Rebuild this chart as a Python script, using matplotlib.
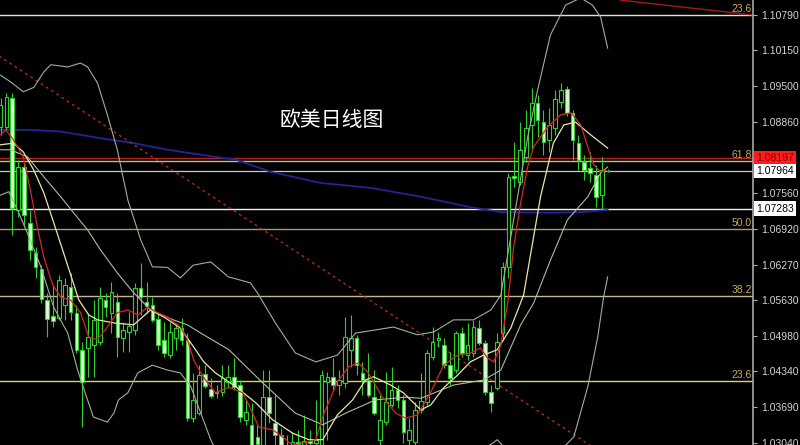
import numpy as np
import matplotlib.pyplot as plt

plt.rcParams['font.family'] = ['Liberation Sans', 'DejaVu Sans']

# --- daily candles (EURUSD) ---
opens = [1.0876, 1.0876, 1.0929, 1.0726, 1.0804, 1.0702, 1.0648, 1.0619, 1.0563, 1.0534,
         1.0530, 1.0554, 1.0587, 1.0540, 1.0473, 1.0476, 1.0482, 1.0487, 1.0563, 1.0540,
         1.0559, 1.0494, 1.0505, 1.0509, 1.0585, 1.0559, 1.0554, 1.0529, 1.0491, 1.0463,
         1.0494, 1.0512, 1.0491, 1.0349, 1.0358, 1.0429, 1.0402, 1.0395, 1.0397, 1.0415,
         1.0424, 1.0409, 1.0346, 1.0337, 1.0315, 1.0300, 1.0387, 1.0340, 1.0319, 1.0300,
         1.0297, 1.0306, 1.0300, 1.0308, 1.0304, 1.0300, 1.0415, 1.0424, 1.0409, 1.0413,
         1.0473, 1.0494, 1.0431, 1.0418, 1.0387, 1.0310, 1.0342, 1.0373, 1.0400, 1.0382,
         1.0310, 1.0306, 1.0364, 1.0378, 1.0460, 1.0491, 1.0482, 1.0445, 1.0436, 1.0503,
         1.0463, 1.0467, 1.0512, 1.0485, 1.0397, 1.0404, 1.0503, 1.0623, 1.0788, 1.0777,
         1.0822, 1.0880, 1.0920, 1.0885, 1.0853, 1.0874, 1.0922, 1.0945, 1.0902, 1.0847,
         1.0813, 1.0802, 1.0789, 1.0753, 1.0797]
highs = [1.0929, 1.0938, 1.0938, 1.0817, 1.0811, 1.0726, 1.0659, 1.0626, 1.0576, 1.0590,
         1.0608, 1.0603, 1.0612, 1.0554, 1.0487, 1.0540, 1.0563, 1.0587, 1.0576, 1.0596,
         1.0576, 1.0523, 1.0541, 1.0594, 1.0630, 1.0596, 1.0568, 1.0540, 1.0523, 1.0523,
         1.0521, 1.0530, 1.0503, 1.0431, 1.0445, 1.0445, 1.0422, 1.0409, 1.0445, 1.0445,
         1.0458, 1.0418, 1.0382, 1.0377, 1.0337, 1.0436, 1.0436, 1.0391, 1.0331, 1.0319,
         1.0324, 1.0328, 1.0355, 1.0328, 1.0382, 1.0436, 1.0433, 1.0458, 1.0436, 1.0532,
         1.0536, 1.0500, 1.0451, 1.0467, 1.0436, 1.0391, 1.0433, 1.0442, 1.0409, 1.0391,
         1.0349, 1.0378, 1.0431, 1.0473, 1.0514, 1.0505, 1.0494, 1.0469, 1.0507, 1.0514,
         1.0521, 1.0527, 1.0527, 1.0491, 1.0409, 1.0503, 1.0632, 1.0793, 1.0849, 1.0885,
         1.0907, 1.0947, 1.0934, 1.0907, 1.0911, 1.0943, 1.0956, 1.0950, 1.0907, 1.0862,
         1.0826, 1.0831, 1.0807, 1.0822, 1.0800]
lows = [1.0862, 1.0871, 1.0681, 1.0713, 1.0695, 1.0635, 1.0603, 1.0558, 1.0496, 1.0514,
        1.0527, 1.0527, 1.0527, 1.0467, 1.0333, 1.0424, 1.0424, 1.0482, 1.0532, 1.0503,
        1.0460, 1.0469, 1.0469, 1.0500, 1.0536, 1.0540, 1.0523, 1.0473, 1.0460, 1.0458,
        1.0473, 1.0482, 1.0344, 1.0342, 1.0355, 1.0404, 1.0386, 1.0386, 1.0389, 1.0404,
        1.0400, 1.0342, 1.0337, 1.0295, 1.0295, 1.0297, 1.0340, 1.0297, 1.0293, 1.0288,
        1.0288, 1.0291, 1.0291, 1.0295, 1.0291, 1.0297, 1.0310, 1.0400, 1.0391, 1.0404,
        1.0442, 1.0427, 1.0391, 1.0387, 1.0355, 1.0297, 1.0337, 1.0369, 1.0367, 1.0304,
        1.0300, 1.0300, 1.0358, 1.0373, 1.0454, 1.0478, 1.0440, 1.0409, 1.0431, 1.0460,
        1.0454, 1.0460, 1.0482, 1.0391, 1.0360, 1.0400, 1.0491, 1.0603, 1.0768, 1.0771,
        1.0813, 1.0835, 1.0858, 1.0826, 1.0831, 1.0862, 1.0911, 1.0896, 1.0817, 1.0798,
        1.0780, 1.0777, 1.0731, 1.0728, 1.0794]
closes = [1.0916, 1.0931, 1.0730, 1.0804, 1.0717, 1.0654, 1.0623, 1.0565, 1.0529, 1.0525,
          1.0599, 1.0590, 1.0541, 1.0473, 1.0415, 1.0496, 1.0527, 1.0567, 1.0550, 1.0578,
          1.0496, 1.0509, 1.0516, 1.0585, 1.0568, 1.0552, 1.0527, 1.0482, 1.0467, 1.0505,
          1.0512, 1.0491, 1.0349, 1.0382, 1.0427, 1.0407, 1.0389, 1.0397, 1.0422, 1.0424,
          1.0406, 1.0351, 1.0360, 1.0300, 1.0302, 1.0387, 1.0358, 1.0319, 1.0300, 1.0297,
          1.0306, 1.0302, 1.0308, 1.0304, 1.0310, 1.0427, 1.0424, 1.0409, 1.0418, 1.0496,
          1.0494, 1.0445, 1.0418, 1.0391, 1.0358, 1.0346, 1.0378, 1.0400, 1.0382, 1.0324,
          1.0328, 1.0364, 1.0380, 1.0467, 1.0487, 1.0494, 1.0445, 1.0422, 1.0503, 1.0467,
          1.0482, 1.0514, 1.0485, 1.0397, 1.0377, 1.0487, 1.0623, 1.0786, 1.0784, 1.0835,
          1.0874, 1.0920, 1.0889, 1.0849, 1.0880, 1.0927, 1.0943, 1.0902, 1.0853, 1.0817,
          1.0798, 1.0793, 1.0750, 1.0798, 1.0796]

# --- indicators (bar index, price) ---
ma_fast_x = [0, 0.9, 2.2, 3.9, 5.1, 6.3, 7.4, 8.9, 10.3, 12, 13.7, 15.1, 16.6, 18.3, 20, 21.8,
             23.5, 25.2, 26.9, 28.6, 30.8, 32, 33.1, 34.3, 35.1, 36.8, 39.1, 41.5, 43.2, 44.2,
             46.6, 48.3, 50, 51.9, 54, 55.3, 57.7, 59.6, 61.3, 63, 65.4, 67.7, 69.4, 71.4,
             73.7, 75.9, 78.3, 80.5, 82.2, 83.4, 84.5, 85.7, 86.9, 87.9, 89.1, 90.3, 91.3,
             93.7, 95.9, 97.7, 99.4, 100.6, 101.6, 102.8, 103.7]
ma_fast_y = [1.0862, 1.0871, 1.0853, 1.0822, 1.0762, 1.0695, 1.0641, 1.0591, 1.0568, 1.0563,
             1.0540, 1.0496, 1.0491, 1.0514, 1.0540, 1.0545, 1.0536, 1.0550, 1.0540, 1.0532,
             1.0514, 1.0491, 1.0454, 1.0431, 1.0418, 1.0395, 1.0405, 1.0395, 1.0358, 1.0333,
             1.0328, 1.0315, 1.0300, 1.0304, 1.0310, 1.0355, 1.0415, 1.0442, 1.0449, 1.0431,
             1.0387, 1.0358, 1.0349, 1.0355, 1.0396, 1.0445, 1.0463, 1.0467, 1.0476, 1.0458,
             1.0451, 1.0482, 1.0559, 1.0659, 1.0739, 1.0804, 1.0840, 1.0876, 1.0898, 1.0902,
             1.0880, 1.0840, 1.0808, 1.0795, 1.0798]

ma_mid_x = [0, 2.2, 3.9, 5.7, 7.4, 9.1, 10.8, 12.3, 13.4, 15.1, 16.6, 19.7, 22.8, 25.7, 28.3,
            30.8, 33.4, 34.8, 36.8, 40.3, 43.7, 46.6, 50, 52.8, 55.2, 57.7, 60.3, 62.5, 63.9,
            66.8, 69, 72, 73.7, 75.9, 78.3, 80.5, 82.7, 85.1, 87.4, 89.6, 92.5, 94.7, 96.5,
            98.5, 101.1, 104]
ma_mid_y = [1.0844, 1.0847, 1.0831, 1.0798, 1.0757, 1.0703, 1.0648, 1.0599, 1.0563, 1.0536,
            1.0527, 1.0521, 1.0518, 1.0545, 1.0530, 1.0512, 1.0473, 1.0451, 1.0431, 1.0406,
            1.0377, 1.0346, 1.0322, 1.0310, 1.0310, 1.0355, 1.0382, 1.0418, 1.0424, 1.0409,
            1.0395, 1.0364, 1.0373, 1.0404, 1.0427, 1.0451, 1.0463, 1.0473, 1.0512, 1.0572,
            1.0750, 1.0847, 1.0880, 1.0885, 1.0862, 1.0838]

bb_mid_x = [0, 1.7, 4.6, 7.4, 10.3, 12.5, 14.9, 17.1, 20, 22.8, 25.7, 29.6, 32, 34.3, 39.1,
            44.9, 50.5, 55.2, 59.1, 64.2, 69.4, 72, 77.6, 82.7, 85.7, 89.1, 91.3, 94.2, 97.1,
            100.6, 102.8, 104]
bb_mid_y = [1.0835, 1.0835, 1.0822, 1.0786, 1.0750, 1.0721, 1.0690, 1.0654, 1.0612, 1.0576,
            1.0545, 1.0527, 1.0518, 1.0503, 1.0473, 1.0413, 1.0358, 1.0337, 1.0358, 1.0382,
            1.0387, 1.0385, 1.0409, 1.0418, 1.0436, 1.0518, 1.0557, 1.0635, 1.0708, 1.0750,
            1.0793, 1.0804]

bb_up_x = [0, 1.7, 3.9, 5.7, 7.4, 8.6, 11.5, 13.7, 14.9, 16.6, 18.3, 20, 21.8, 24, 26, 28.6,
           30.8, 33, 36, 39, 42.8, 44, 47.1, 50.5, 54, 57.7, 60.8, 67.3, 71.4, 74.2, 77.6,
           81, 84, 85.7, 87.4, 90.3, 92, 94.2, 96.8, 99.4, 101.4, 102.8, 104]
bb_up_y = [1.0970, 1.0958, 1.0940, 1.0948, 1.0976, 1.0989, 1.0985, 1.0992, 1.0985, 1.0956,
           1.0898, 1.0835, 1.0744, 1.0672, 1.0623, 1.0622, 1.0603, 1.0626, 1.0632, 1.0605,
           1.0594, 1.0576, 1.0521, 1.0467, 1.0451, 1.0463, 1.0503, 1.0514, 1.0500, 1.0505,
           1.0527, 1.0527, 1.0545, 1.0572, 1.0677, 1.0858, 1.0943, 1.1043, 1.1097, 1.1110,
           1.1097, 1.1075, 1.1019]

bb_lo_x = [0, 1.4, 2.9, 4.6, 6.9, 9.1, 11.5, 13.2, 14.9, 15.9, 18.3, 19.4, 20.2, 21.8, 23.5,
           26, 28.6, 30.8, 32.6, 34.3, 36, 37.7, 42.8, 51.4, 60, 68.5, 77, 82.2, 85.1, 87.4,
           90.8, 94.2, 96.8, 98.2, 100.6, 102.3, 103.3, 104]
bb_lo_y = [1.0753, 1.0759, 1.0726, 1.0684, 1.0623, 1.0550, 1.0503, 1.0436, 1.0382, 1.0351,
           1.0342, 1.0358, 1.0382, 1.0395, 1.0431, 1.0445, 1.0436, 1.0431, 1.0406, 1.0358,
           1.0310, 1.0273, 1.0250, 1.0245, 1.0245, 1.0250, 1.0262, 1.0288, 1.0310, 1.0283,
           1.0237, 1.0255, 1.0300, 1.0315, 1.0406, 1.0496, 1.0568, 1.0605]

ma_long_x = [0, 5.1, 10.3, 17.1, 22.8, 28.6, 34.3, 40.3, 46.3, 54.8, 63.4, 72, 80.5, 85.7,
             94.2, 99.4, 104]
ma_long_y = [1.0871, 1.0871, 1.0868, 1.0856, 1.0847, 1.0835, 1.0826, 1.0817, 1.0795, 1.0775,
             1.0766, 1.0750, 1.0731, 1.0722, 1.0721, 1.0722, 1.0726]

# trend lines (anchor points)
trend_dn_x = [0, 101.1]
trend_dn_y = [1.1003, 1.0299]
trend_top_x = [106.2, 129.0]
trend_top_y = [1.1106, 1.1079]

# fibonacci levels
fib_prices = [1.10790, 1.08147, 1.06915, 1.05702, 1.04164]
fib_labels = ['23.6', '61.8', '50.0', '38.2', '23.6']
fib_colors = ['#e6e2c8', '#cdb98c', '#a89a6a', '#c8b88e', '#d8d468']

red_level = 1.08197
bid_level = 1.07964
support_level = 1.07283

ticks = [1.10790, 1.10150, 1.09500, 1.08860, 1.07560, 1.06920, 1.06270,
         1.05630, 1.04980, 1.04340, 1.03690, 1.03040]

# --- plot ---
fig = plt.figure(figsize=(8, 4.45), dpi=100, facecolor='black')
ax = fig.add_axes([0, 0, 753 / 800, 1])
ax.set_facecolor('black')

o = np.array(opens); h = np.array(highs); l = np.array(lows); c = np.array(closes)
idx = np.arange(len(o))
up = c >= o
green = '#2fcf2f'

ax.vlines(idx, l, h, color=green, lw=0.8, zorder=3)
body_lo = np.minimum(o, c)
body_h = np.maximum(np.abs(c - o), 0.00008)
ax.bar(idx[up], body_h[up], bottom=body_lo[up], width=0.62, facecolor='black',
       edgecolor=green, lw=0.8, zorder=4)
ax.bar(idx[~up], body_h[~up], bottom=body_lo[~up], width=0.62, facecolor='#d6fbcc',
       edgecolor=green, lw=0.8, zorder=4)

# horizontal levels
for p, col in zip(fib_prices, fib_colors):
    ax.axhline(p, color=col, lw=1.0, zorder=1)
ax.axhline(red_level, color='#b4221c', lw=1.0, zorder=1)
ax.axhline(bid_level, color='#c8c8c8', lw=0.9, zorder=1)
ax.axhline(support_level, color='#f0f0f0', lw=1.0, zorder=1)

for p, lab in zip(fib_prices, fib_labels):
    ax.text(128.7, p + 0.0002, lab, color='#c9a85a', fontsize=7.5,
            ha='right', va='bottom', zorder=6)

# indicators
band = '#9cb494'
ax.plot(ma_long_x, ma_long_y, color='#23239a', lw=1.3, zorder=2)
ax.plot(bb_up_x, bb_up_y, color=band, lw=0.8, zorder=5)
ax.plot(bb_lo_x, bb_lo_y, color=band, lw=0.8, zorder=5)
ax.plot(bb_mid_x, bb_mid_y, color='#aebca2', lw=0.8, zorder=5)
ax.plot(ma_mid_x, ma_mid_y, color='#ece6a6', lw=0.9, zorder=5)
ax.plot(ma_fast_x, ma_fast_y, color='#d42626', lw=0.9, zorder=5)

# trend lines, extended to the plot edge
slope = (trend_dn_y[1] - trend_dn_y[0]) / (trend_dn_x[1] - trend_dn_x[0])
tx = np.array([-1, 128.9])
ax.plot(tx, trend_dn_y[0] + slope * (tx - trend_dn_x[0]), color='#b02828',
        lw=1.0, ls=(0, (2, 2.5)), zorder=2)
ax.plot(trend_top_x, trend_top_y, color='#a81818', lw=1.0, zorder=2)

ax.text(56.8, 1.08889, '欧美日线图', color='white', fontsize=15,
        family=['Noto Sans CJK SC'], ha='center', va='center', zorder=7)

ax.set_xlim(-0.1, 128.9)
ax.set_ylim(1.03004, 1.11062)
ax.set_xticks([])
ax.yaxis.tick_right()
ax.set_yticks(ticks)
ax.set_yticklabels([f'{t:.5f}' for t in ticks])
ax.tick_params(axis='y', length=3, width=0.8, color='#b0b0b0',
               labelcolor='#d4d4d4', labelsize=7.5, pad=3)
for s in ['top', 'bottom', 'left']:
    ax.spines[s].set_visible(False)
ax.spines['right'].set_color('#a8a8a8')
ax.spines['right'].set_linewidth(1.2)

# price boxes on the axis
ytr = ax.get_yaxis_transform()
ax.text(1.004, red_level, '1.08197', transform=ytr, color='#7a0000', fontsize=7.5,
        ha='left', va='center', clip_on=False, zorder=8,
        bbox=dict(boxstyle='square,pad=0.22', fc='#ff1c1c', ec='none'))
for p in [bid_level, support_level]:
    ax.text(1.004, p, f'{p:.5f}', transform=ytr, color='black', fontsize=7.5,
            ha='left', va='center', clip_on=False, zorder=8,
            bbox=dict(boxstyle='square,pad=0.22', fc='white', ec='none'))

fig.savefig('out.png', dpi=100, facecolor='black')
